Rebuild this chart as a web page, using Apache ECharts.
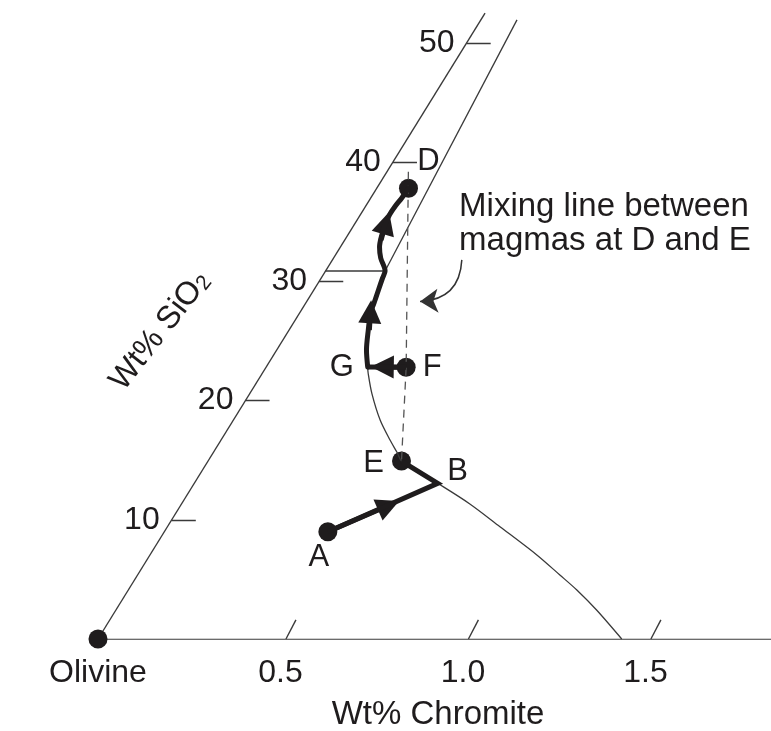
<!DOCTYPE html>
<html>
<head>
<meta charset="utf-8">
<script src="https://cdn.jsdelivr.net/npm/echarts@6/dist/echarts.min.js"></script>
<style>html,body{margin:0;background:#fff}#chart{width:771px;height:731px}</style>
</head>
<body>
<div id="chart"></div>
<script>
// values, as [Wt% chromite, Wt% SiO2]
const chromiteTicks = [0, 0.5, 1.0, 1.5];
const chromiteTickLabels = ['Olivine', '0.5', '1.0', '1.5'];
const silicaTicks = [10, 20, 30, 40, 50];

const pointNames = ['A', 'B', 'D', 'E', 'F', 'G'];
const pointChromite = [0.448, 0.667, 0.087, 0.530, 0.384, 0.278];
const pointSilica = [9.0, 13.06, 37.81, 14.93, 22.79, 22.82];
const dotNames = ['A', 'D', 'E', 'F'];

// olivine-chromite cotectic, from the chromite axis up to G
const boundaryChromite = [1.435, 1.317, 1.229, 1.157, 1.060, 0.911, 0.790, 0.667, 0.530, 0.506, 0.463, 0.402, 0.334, 0.290, 0.278];
const boundarySilica = [0, 2.43, 4.11, 5.37, 7.05, 9.42, 11.33, 13.06, 14.93, 15.58, 16.69, 18.37, 20.61, 22.29, 22.82];
const upperChromite = [0.163, 0.099];
const upperSilica = [30.87, 51.93];
const reactionChromite = [0, 0.163];
const reactionSilica = [30.87, 30.87];

// crystallization path G -> D
const pathChromite = [0.278, 0.246, 0.217, 0.193, 0.187, 0.177, 0.168, 0.163, 0.129, 0.107, 0.095, 0.085, 0.080, 0.081, 0.085, 0.087];
const pathSilica = [22.82, 24.24, 25.92, 27.43, 28.19, 29.28, 30.29, 30.87, 31.96, 32.89, 33.72, 34.70, 35.60, 36.30, 37.00, 37.81];

// mixing line D - F - E (dashed)
const mixChromite = [0.0586, 0.384, 0.530];
const mixSilica = [39.2, 22.79, 14.93];

// arrow heads: from -> head
const arrowFromChromite = [0.448, 0.384, 0.220, 0.0995];
const arrowFromSilica = [9.0, 22.79, 25.92, 33.47];
const arrowToChromite = [0.570, 0.318, 0.192, 0.084];
const arrowToSilica = [11.2, 22.82, 27.45, 34.90];

const leaderChromite = [0.3545, 0.3107];
const leaderSilica = [31.8, 28.3];

const noteText = 'Mixing line between\nmagmas at D and E';
const noteAt = [0.286, 34.82];
const silicaTitleAt = [-0.352, 25.84];

const SILICA_TOP = 52.5;
const CHROMITE_END = 1.844;

// the SiO2 axis leans to the right: shear into plain x/y
const SHEAR = 0.0202;
const xy = (c, s) => [c + SHEAR * s, s];
const zip = (cs, ss) => cs.map((c, i) => xy(c, ss[i]));
const pt = name => { const i = pointNames.indexOf(name); return xy(pointChromite[i], pointSilica[i]); };

const INK = '#1f1c1d';
const LINE = '#3a3a3a';
const FONT = 'Liberation Sans';

const labelOffset = { A: [-9, 26], B: [20, -12], D: [20, -27], E: [-28, 2], F: [26, 0], G: [-26, 1] };

const chart = echarts.init(document.getElementById('chart'));
chart.setOption({
    animation: false,
    grid: { left: 25, right: 0, top: 0, bottom: 92, outerBoundsMode: 'none' },
    xAxis: {
        type: 'value', min: -0.2, max: CHROMITE_END,
        axisLine: { show: false }, axisTick: { show: false }, splitLine: { show: false },
        axisLabel: {
            customValues: chromiteTicks,
            formatter: v => chromiteTickLabels[chromiteTicks.indexOf(v)],
            fontSize: 32, fontFamily: FONT, color: INK, margin: 18
        },
        name: 'Wt% Chromite', nameLocation: 'middle', nameGap: 59,
        nameTextStyle: { fontSize: 33, fontFamily: FONT, color: INK, padding: [0, 0, 0, 80] }
    },
    yAxis: { type: 'value', min: 0, max: 53.6, show: false },
    series: [
        {   // axes and ticks
            type: 'lines', coordinateSystem: 'cartesian2d', silent: true,
            lineStyle: { color: LINE, width: 1.4, opacity: 1 },
            data: [
                { coords: [xy(0, 0), xy(CHROMITE_END, 0)] },
                { coords: [xy(0, 0), xy(0, SILICA_TOP)] },
                ...silicaTicks.map(v => ({ coords: [xy(0, v), xy(0.066, v)] })),
                ...chromiteTicks.slice(1).map(v => ({ coords: [xy(v + 0.015, 0), xy(v + 0.010, 1.6)] }))
            ]
        },
        {   // SiO2 tick labels
            type: 'scatter', symbolSize: 0, silent: true, itemStyle: { opacity: 1 },
            data: silicaTicks.map(v => ({ value: xy(0, v), name: String(v) })),
            label: { show: true, formatter: '{b}', position: 'left', distance: 12, fontSize: 32, fontFamily: FONT, color: INK }
        },
        {   // SiO2 axis title
            type: 'scatter', symbolSize: 0, silent: true, itemStyle: { opacity: 1 },
            data: [xy(silicaTitleAt[0], silicaTitleAt[1])],
            label: {
                show: true, position: 'inside', rotate: 52, fontSize: 32, fontFamily: FONT, color: INK,
                formatter: 'Wt% SiO{s|2}',
                rich: { s: { fontSize: 21, fontFamily: FONT, color: INK, verticalAlign: 'bottom' } }
            }
        },
        {
            type: 'line', data: zip(boundaryChromite, boundarySilica), smooth: 0.3, showSymbol: false, clip: false,
            lineStyle: { color: LINE, width: 1.3 }, silent: true
        },
        {
            type: 'line', data: zip(upperChromite, upperSilica), showSymbol: false, clip: false,
            lineStyle: { color: LINE, width: 1.3 }, silent: true
        },
        {
            type: 'line', data: zip(reactionChromite, reactionSilica), showSymbol: false, clip: false,
            lineStyle: { color: LINE, width: 1.3 }, silent: true
        },
        {
            type: 'line', data: zip(mixChromite, mixSilica), showSymbol: false, clip: false,
            lineStyle: { color: '#555', width: 1.3, type: [8, 6] }, silent: true
        },
        {
            type: 'line', data: zip(pathChromite, pathSilica), smooth: 0.3, showSymbol: false, clip: false,
            lineStyle: { color: INK, width: 5, cap: 'round', join: 'round' }, silent: true
        },
        {
            type: 'line', data: [pt('A'), pt('B'), pt('E')], showSymbol: false, clip: false,
            lineStyle: { color: INK, width: 5, join: 'miter' }, silent: true
        },
        {
            type: 'line', data: [pt('F'), pt('G')], showSymbol: false, clip: false,
            lineStyle: { color: INK, width: 5 }, silent: true
        },
        {   // arrow heads
            type: 'lines', coordinateSystem: 'cartesian2d', silent: true,
            symbol: ['none', 'triangle'], symbolSize: [18, 23],
            lineStyle: { color: INK, width: 5, opacity: 1 },
            data: arrowFromChromite.map((c, i) => ({
                coords: [xy(c, arrowFromSilica[i]), xy(arrowToChromite[i], arrowToSilica[i])]
            }))
        },
        {   // leader to the mixing line
            type: 'lines', coordinateSystem: 'cartesian2d', silent: true,
            symbol: ['none', 'arrow'], symbolSize: [14, 18],
            lineStyle: { color: '#333', width: 1.5, curveness: 0.45, opacity: 1 },
            data: [{ coords: zip(leaderChromite, leaderSilica) }]
        },
        {   // composition dots
            type: 'scatter', symbol: 'circle', symbolSize: 19, silent: true,
            itemStyle: { color: INK, opacity: 1 },
            data: [xy(0, 0), ...dotNames.map(pt)]
        },
        {   // point letters
            type: 'scatter', symbolSize: 0, silent: true, itemStyle: { opacity: 1 },
            data: pointNames.map(n => ({
                value: pt(n), name: n,
                label: { offset: labelOffset[n] }
            })),
            label: { show: true, position: 'inside', formatter: '{b}', fontSize: 31, fontFamily: FONT, color: INK }
        },
        {   // note
            type: 'scatter', symbolSize: 0, silent: true, itemStyle: { opacity: 1 },
            data: [xy(noteAt[0], noteAt[1])],
            label: {
                show: true, position: 'right', distance: 0, align: 'left', formatter: noteText,
                fontSize: 33, lineHeight: 34, fontFamily: FONT, color: INK
            }
        }
    ]
});
</script>
</body>
</html>
